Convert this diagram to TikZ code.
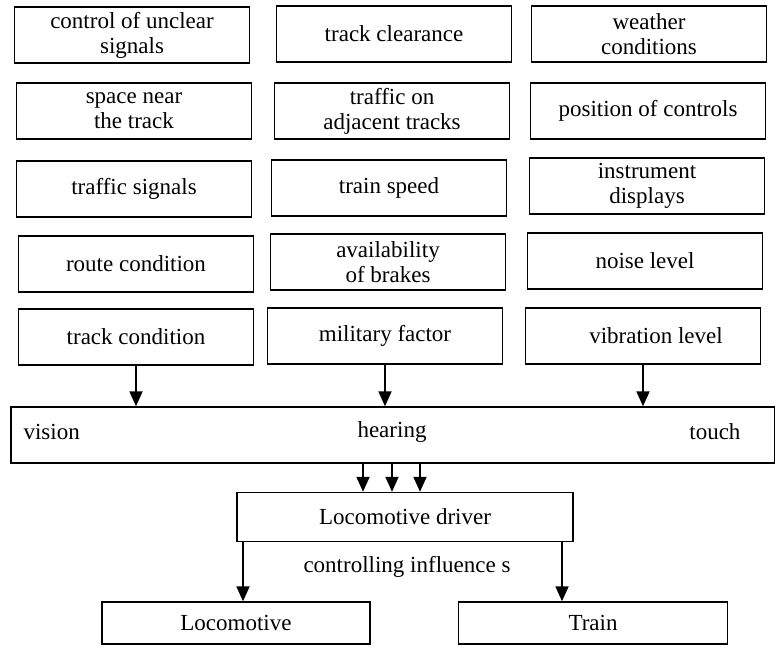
\documentclass[tikz,border=0pt]{standalone}
\usepackage{fontspec}
\setmainfont{Liberation Serif}
\usepackage{tikz}
\usetikzlibrary{arrows.meta}
\tikzset{
  factor/.style = {draw, line width=1.8pt, minimum width=235pt,
    minimum height=56pt, inner sep=0pt, align=center}
}
\tikzset{
  every node/.style = {font = \fontsize{23}{25}\selectfont}
}
\tikzset{
    >={Triangle[length=15pt,width=13pt]}
}
\newcommand{\feed}[3]{
  \draw[->,line width=1.8pt]
    ([xshift=#3]#1.south) -- ([xshift=#3]#1.south |- #2.north);
}

\begin{document}
\begin{tikzpicture}[x=1pt, y=-1pt]
  \useasboundingbox (0,0) rectangle (775,646);

  \node[factor] (unclear)   at (132,35)  {control of unclear\\signals};
  \node[factor] (clearance) at (394,34)  {track clearance};
  \node[factor] (weather)   at (649,34)  {weather\\conditions};

  \node[factor] (space)     at (134,111) {space near\\the track};
  \node[factor] (adjacent)  at (392,111) {traffic on\\adjacent tracks};
  \node[factor] (controls)  at (648,111) {position of controls};

  \node[factor] (signals)   at (134,189) {traffic signals};
  \node[factor] (speed)     at (389,188) {train speed};
  \node[factor] (displays)  at (647,186) {instrument\\displays};

  \node[factor] (route)     at (136,264) {route condition};
  \node[factor] (brakes)    at (388,262) {availability\\of brakes};
  \node[factor] (noise)     at (645,261) {noise level};

  \node[factor] (track)     at (136,337) {track condition};
  \node[factor] (military)  at (385,336) {military factor};
  \node[factor] (vibration) at (643,336) {\hspace*{26pt}vibration level};

  \node[factor, line width=1.4pt, minimum width=764pt] (senses) at (393,435) {};
  \node[anchor=west] (vision) at (20,432) {vision};
  \node (hearing) at (392,432) {hearing};
  \node[anchor=east] (touch) at (744,432) {touch};

  \node[factor, line width=1.4pt, minimum width=336pt, minimum height=49pt]
    (driver) at (405,517) {Locomotive driver};
  \node (influence) at (407,567) {controlling influence s};

  \node[factor, line width=1.4pt, minimum width=268pt, minimum height=42pt]
    (loco) at (236,623) {Locomotive};
  \node[factor, line width=1.4pt, minimum width=269pt, minimum height=42pt]
    (train) at (593,623) {Train};

  \feed{track}{senses}{0pt}
  \feed{military}{senses}{0pt}
  \feed{vibration}{senses}{0pt}

  \feed{senses}{driver}{-30pt}
  \feed{senses}{driver}{-1pt}
  \feed{senses}{driver}{27pt}

  \feed{driver}{loco}{-162pt}
  \feed{driver}{train}{157pt}
\end{tikzpicture}
\end{document}
